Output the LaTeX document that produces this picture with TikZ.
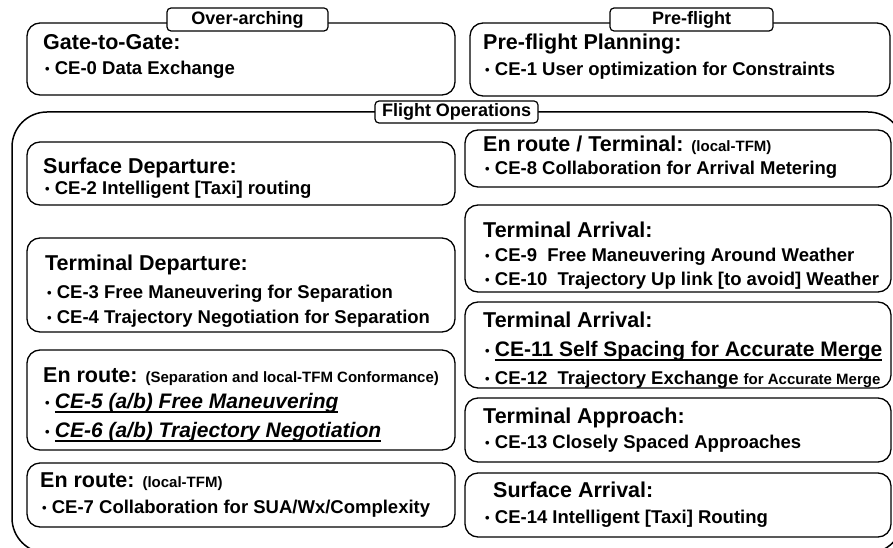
\documentclass[tikz,border=0pt]{standalone}
\usepackage{fontspec}
\setmainfont{Liberation Sans}
% underline at a fixed depth
\newsavebox{\ulbox}
\newcommand{\ulined}[1]{\sbox{\ulbox}{#1}\rlap{\rule[-4.5pt]{\wd\ulbox}{1.2pt}}\usebox{\ulbox}}
% small bullet of the CE lines
\newcommand{\cedot}{\raisebox{1pt}{\fontsize{13}{13}\selectfont •}}
% font sizes (1pt = 1px of the slide)
\newcommand{\boxhead}{\fontsize{21.5}{24}\selectfont\bfseries}
\newcommand{\boxitem}{\fontsize{18.5}{20}\selectfont\bfseries}
\newcommand{\boxnote}{\fontsize{15}{17}\selectfont\bfseries}
\newcommand{\boxbig}{\fontsize{21}{23}\selectfont\bfseries}
\newcommand{\tabtext}{\fontsize{18}{20}\selectfont\bfseries}

\begin{document}
\begin{tikzpicture}[
	x=1pt, y=-1pt, % slide pixels, y pointing down
	% Style for the frame of one group of CEs
	group box/.style={
		draw=black,
		line width=1.3pt,
		rounded corners=13pt
	},
	% Style for the big flight operations frame
	outer box/.style={
		draw=black,
		line width=1.5pt,
		rounded corners=35pt
	},
	% Style for the labels sitting on a frame
	tab label/.style={
		draw=black,
		fill=white,
		line width=1.2pt,
		rounded corners=4pt,
		inner sep=0pt,
		font=\tabtext
	},
	% Style for the heading of a group
	head/.style={
		anchor=base west,
		inner sep=0pt,
		font=\boxhead
	},
	% Style for one CE line
	item/.style={
		anchor=base west,
		inner sep=0pt,
		font=\boxitem
	}
	]
	
	% 0. Page
	\path[use as bounding box, fill=white] (0,0) rectangle (893,548);
	\clip (0,0) rectangle (893,548);
	
	% 1. Frames
	% Top row
	\draw[group box] (27,23) rectangle (455,95);
	\draw[group box] (470,23) rectangle (890,96);
	% Flight operations
	\draw[outer box] (12,112) rectangle (903,553);
	% Left column
	\draw[group box] (27,142) rectangle (455,205);
	\draw[group box] (27,238) rectangle (455,332);
	\draw[group box] (27,350) rectangle (455,450);
	\draw[group box] (27,463) rectangle (455,527);
	% Right column
	\draw[group box] (465,130) rectangle (891,187);
	\draw[group box] (465,205) rectangle (891,292);
	\draw[group box] (465,302) rectangle (891,388);
	\draw[group box] (465,398) rectangle (891,462);
	\draw[group box] (465,473) rectangle (891,537);
	
	% 2. Labels on the frames
	\node[tab label, minimum width=161pt, minimum height=23pt] (tabover) at (247.5,19.5) {Over-arching};
	\node[tab label, minimum width=163pt, minimum height=23pt] (tabpre) at (691.5,19.5) {Pre-flight};
	\node[tab label, minimum width=163pt, minimum height=22pt] (tabflight) at (456.5,112) {Flight Operations};
	
	% 3. Text of the groups
	% Over-arching
	\node[head] (hgate) at (43,50) {Gate-to-Gate:};
	\node[item] (ce0) at (45,75) {\cedot{} CE-0 Data Exchange};
	
	% Pre-flight
	\node[head] (hplan) at (483,50) {Pre-flight Planning:};
	\node[item] (ce1) at (485,76) {\cedot{} CE-1 User optimization for Constraints};
	
	% Left column
	\node[head] (hsurfdep) at (43,173) {Surface Departure:};
	\node[item] (ce2) at (45,194) {\cedot{} CE-2 Intelligent [Taxi] routing};
	
	\node[head] (htermdep) at (45,270) {Terminal Departure:};
	\node[item] (ce3) at (47,298) {\cedot{} CE-3 Free Maneuvering for Separation};
	\node[item] (ce4) at (47,323) {\cedot{} CE-4 Trajectory Negotiation for Separation};
	
	\node[head] (henroute) at (43,382) {En route: {\boxnote (Separation and local-TFM Conformance)}};
	\node[item] (ce5) at (45,408) {\cedot{} {\boxbig\itshape\ulined{CE-5 (a/b) Free Maneuvering}}};
	\node[item] (ce6) at (45,437) {\cedot{} {\boxbig\itshape\ulined{CE-6 (a/b) Trajectory Negotiation}}};
	
	\node[head] (henlocal) at (40,487) {En route: {\boxnote (local-TFM)}};
	\node[item] (ce7) at (42,513) {\cedot{} CE-7 Collaboration for SUA/Wx/Complexity};
	
	% Right column
	\node[head] (henterm) at (483,152) {En route / Terminal: {\boxnote (local-TFM)}};
	\node[item] (ce8) at (485,175) {\cedot{} CE-8 Collaboration for Arrival Metering};
	
	\node[head] (htermarr) at (483,237) {Terminal Arrival:};
	\node[item] (ce9) at (485,261) {\cedot{} CE-9\ \ Free Maneuvering Around Weather};
	\node[item] (ce10) at (485,285) {\cedot{} CE-10\ \ Trajectory Up link [to avoid] Weather};
	
	\node[head] (htermmerge) at (483,327) {Terminal Arrival:};
	\node[item] (ce11) at (485,356) {\cedot{} {\boxbig\ulined{CE-11 Self Spacing for Accurate Merge}}};
	\node[item] (ce12) at (485,384) {\cedot{} CE-12\ \ Trajectory Exchange {\boxnote for Accurate Merge}};
	
	\node[head] (htermapp) at (483,423) {Terminal Approach:};
	\node[item] (ce13) at (485,448) {\cedot{} CE-13 Closely Spaced Approaches};
	
	\node[head] (hsurfarr) at (493,497) {Surface Arrival:};
	\node[item] (ce14) at (485,523) {\cedot{} CE-14 Intelligent [Taxi] Routing};
	
\end{tikzpicture}
\end{document}
